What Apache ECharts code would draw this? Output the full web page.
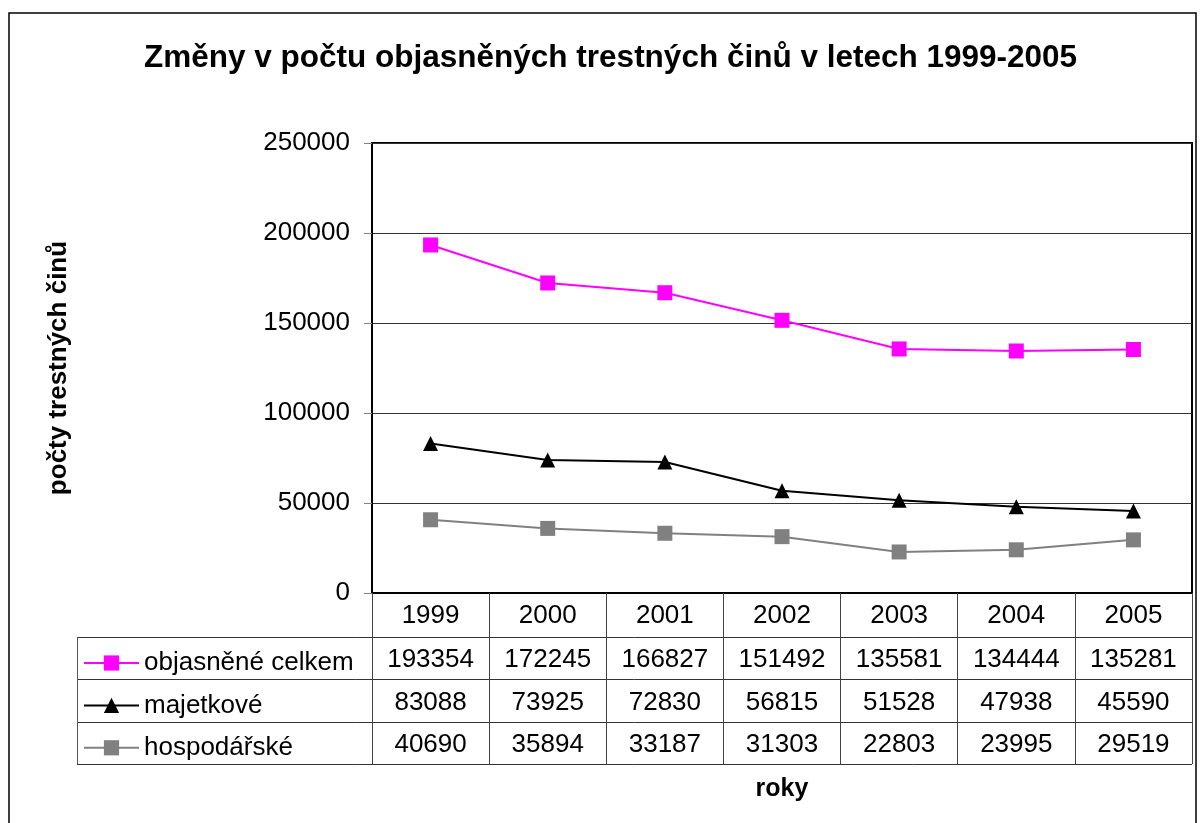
<!DOCTYPE html>
<html lang="cs">
<head>
<meta charset="UTF-8">
<title>Změny v počtu objasněných trestných činů</title>
<script src="https://cdn.jsdelivr.net/npm/echarts@6/dist/echarts.min.js"></script>
<style>
  html, body { margin: 0; padding: 0; background: #fff; }
  #main { width: 1200px; height: 823px; }
</style>
</head>
<body>
<div id="main"></div>
<script>
// data
var roky = ['1999', '2000', '2001', '2002', '2003', '2004', '2005'];
var celkem = [193354, 172245, 166827, 151492, 135581, 134444, 135281];
var majetkove = [83088, 73925, 72830, 56815, 51528, 47938, 45590];
var hospodarske = [40690, 35894, 33187, 31303, 22803, 23995, 29519];
var nazvy = ['objasněné celkem', 'majetkové', 'hospodářské'];
var barvy = ['#ff00ff', '#000000', '#808080'];
var symboly = ['rect', 'triangle', 'rect'];

var radky = [celkem, majetkove, hospodarske];
var font = 'Liberation Sans, Arial, sans-serif';

var chart = echarts.init(document.getElementById('main'));

var serie = nazvy.map(function (n, i) {
    return {
        name: n, type: 'line', data: radky[i],
        symbol: symboly[i], symbolSize: 15,
        lineStyle: { color: barvy[i], width: 2 },
        itemStyle: { color: barvy[i] }
    };
});

chart.setOption({
    animation: false,
    title: {
        text: 'Změny v počtu objasněných trestných činů v letech 1999-2005',
        left: 139, top: 37,
        textStyle: { fontFamily: font, fontSize: 31.5, fontWeight: 'bold', color: '#000' }
    },
    legend: {
        orient: 'vertical', left: 78, top: 645,
        itemWidth: 55, itemHeight: 19, itemGap: 16.4,
        data: nazvy,
        lineStyle: { width: 2 },
        textStyle: { fontFamily: font, fontSize: 26, color: '#000' }
    },
    grid: { left: 372, top: 143, right: 8, bottom: 230, show: true, borderColor: '#000', borderWidth: 2 },
    xAxis: {
        type: 'category', data: roky,
        name: 'roky', nameLocation: 'middle', nameGap: 184,
        nameTextStyle: { fontFamily: font, fontSize: 25, fontWeight: 'bold', color: '#000' },
        axisLine: { lineStyle: { color: '#000', width: 2 } },
        axisTick: { show: true, length: 171, lineStyle: { color: '#444', width: 1 } },
        axisLabel: { fontFamily: font, fontSize: 26, color: '#000', margin: 10 }
    },
    yAxis: {
        type: 'value', min: 0, max: 250000, interval: 50000,
        name: 'počty trestných činů', nameLocation: 'middle', nameGap: 300,
        nameTextStyle: { fontFamily: font, fontSize: 26, fontWeight: 'bold', color: '#000' },
        axisLine: { show: true, lineStyle: { color: '#000', width: 2 } },
        axisTick: { show: true, length: 8, lineStyle: { color: '#808080' } },
        axisLabel: { fontFamily: font, fontSize: 26, color: '#000', margin: 22, formatter: function (v) { return String(v); } },
        splitLine: { lineStyle: { color: '#333', width: 1 } }
    },
    series: serie
});

// datova tabulka pod grafem
var p0 = chart.convertToPixel({ xAxisIndex: 0 }, 0);
var p1 = chart.convertToPixel({ xAxisIndex: 0 }, 1);
var krok = p1 - p0;
var levy = p0 - krok / 2;
var pravy = levy + krok * roky.length;
var osaY = chart.convertToPixel({ yAxisIndex: 0 }, 0);
var tabLevy = 77;
var hlavicka = 44;
var vyskaRadku = 42.4;

var g = [];
g.push({ type: 'rect', shape: { x: 9, y: 13, width: 1187, height: 830 },
    style: { fill: null, stroke: '#000', lineWidth: 1.5 }, z: -1 });
for (var r = 0; r <= radky.length; r++) {
    var y = Math.round(osaY + hlavicka + r * vyskaRadku) + 0.5;
    g.push({ type: 'line', shape: { x1: tabLevy, y1: y, x2: pravy, y2: y },
        style: { stroke: '#333', lineWidth: 1 } });
}
g.push({ type: 'line', shape: { x1: tabLevy + 0.5, y1: osaY + hlavicka, x2: tabLevy + 0.5, y2: osaY + hlavicka + radky.length * vyskaRadku },
    style: { stroke: '#555', lineWidth: 1 } });
radky.forEach(function (rad, r) {
    var yc = osaY + hlavicka + (r + 0.5) * vyskaRadku + 2;
    rad.forEach(function (v, i) {
        g.push({ type: 'text', x: chart.convertToPixel({ xAxisIndex: 0 }, i), y: yc,
            style: { text: String(v), fontFamily: font, fontSize: 26, fill: '#000', align: 'center', verticalAlign: 'middle' } });
    });
});
chart.setOption({ graphic: g });
</script>
</body>
</html>
